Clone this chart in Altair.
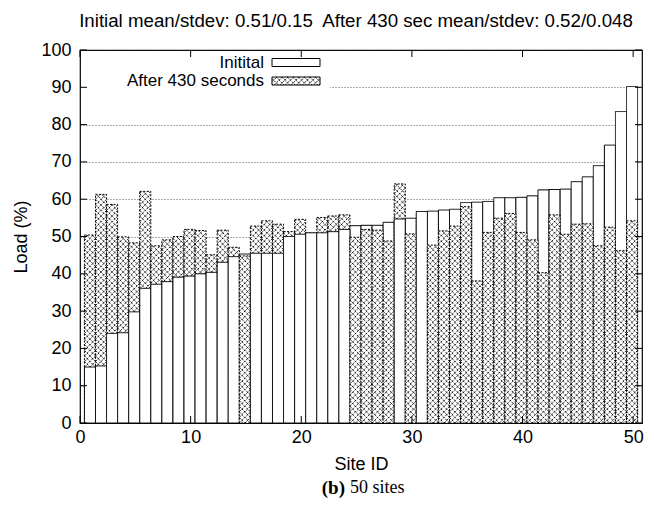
import altair as alt
import pandas as pd

# ---------------- data ----------------
sites = list(range(1, 51))
initial = [15.0, 15.3, 24.0, 24.2, 29.8, 36.1, 37.2, 37.9, 39.1, 39.4,
           40.0, 40.4, 43.1, 44.6, 45.3, 45.5, 45.5, 45.5, 50.0, 50.6,
           51.0, 51.0, 51.3, 51.9, 52.9, 53.0, 53.0, 53.8, 54.7, 54.9,
           56.7, 56.8, 57.1, 57.3, 59.1, 59.2, 59.4, 60.4, 60.4, 60.5,
           60.9, 62.5, 62.6, 62.7, 64.7, 66.0, 69.0, 74.5, 83.5, 90.2]
after = [50.4, 61.3, 58.6, 49.9, 48.3, 62.1, 47.5, 49.1, 50.0, 51.9,
         51.6, 45.1, 51.7, 47.1, 44.8, 52.8, 54.2, 53.3, 51.3, 54.6,
         51.0, 55.1, 55.5, 55.8, 49.8, 51.9, 51.7, 48.8, 64.1, 50.7,
         56.7, 47.7, 51.5, 52.8, 58.0, 38.1, 51.1, 54.9, 56.2, 51.1,
         49.1, 40.3, 55.8, 50.6, 53.3, 53.4, 47.5, 52.5, 46.2, 54.2]
series_names = ["Initital", "After 430 seconds"]
title_text = "Initial mean/stdev: 0.51/0.15\u00a0 After 430 sec mean/stdev: 0.52/0.048"
x_ticks = [0, 10, 20, 30, 40, 50]
y_ticks = [0, 10, 20, 30, 40, 50, 60, 70, 80, 90, 100]
x_title = "Site ID"
y_title = "Load (%)"
caption_bold = "(b)"
caption_rest = "50 sites"

# ---------------- layout ----------------
W, H = 562, 373
XMAX = 50.8
FONT = "Liberation Sans"
S_INIT, S_AFTER = series_names
PXX, PXY = W / XMAX, H / 100.0          # pixels per data unit
WU = round(PXX / PXY, 4)                 # 1 x-unit expressed in y-units (for 45 deg lines)
P = 1.5                                  # vertical pitch of hatch lines, y-units

df = pd.DataFrame({"site": sites, "initial": initial, "after": after})

xs = alt.Scale(domain=[0, XMAX], nice=False, zero=False)
ys = alt.Scale(domain=[0, 100], nice=False)
dashes = alt.Scale(domain=series_names, range=[[1, 0], [2, 1.5]])

x_axis = alt.Axis(values=x_ticks, grid=False, ticks=False, tickSize=0, domain=False,
                  labelFont=FONT, labelFontSize=18, labelColor="black", labelPadding=5,
                  title=x_title, titleFont=FONT, titleFontSize=18, titleFontWeight="normal",
                  titleColor="black", titlePadding=9, labelFlush=False)
y_axis = alt.Axis(values=y_ticks, grid=True, gridDash=[1, 2], gridColor="#333333",
                  gridWidth=0.8, ticks=False, tickSize=0, domain=False,
                  labelFont=FONT, labelFontSize=18, labelColor="black", labelPadding=9,
                  title=y_title, titleFont=FONT, titleFontSize=18, titleFontWeight="normal",
                  titleColor="black", titlePadding=10, labelFlush=False)

base = alt.Chart(df).transform_calculate(
    x0="datum.site - 0.6",
    x1="datum.site + 0.4",
    zero="0",
    hi="max(datum.initial, datum.after)",
    lo="min(datum.initial, datum.after)",
    tall=f"datum.after >= datum.initial ? '{S_AFTER}' : '{S_INIT}'",
    short=f"datum.after >= datum.initial ? '{S_INIT}' : '{S_AFTER}'",
    hlo="datum.after >= datum.initial ? datum.initial : 0",
    hhi="datum.after",
)


def bars(top_field, ser_field):
    return base.mark_bar(stroke="black", strokeWidth=1, fill="white").encode(
        x=alt.X("x0:Q", scale=xs, axis=x_axis),
        x2="x1:Q",
        y=alt.Y(f"{top_field}:Q", scale=ys, axis=y_axis),
        y2="zero:Q",
        strokeDash=alt.StrokeDash(f"{ser_field}:N", scale=dashes, legend=None),
    )


def hatch_layers(src):
    """Crosshatch (45 deg lines) clipped to the box x0..x1, hlo..hhi of every row."""
    hb = src.transform_filter("datum.hhi > datum.hlo").transform_calculate(
        wu=f"(datum.x1 - datum.x0) * {WU}"
    ).transform_calculate(
        ks=f"sequence(floor((datum.hlo - datum.wu) / {P}), ceil(datum.hhi / {P}) + 1)"
    ).transform_flatten(["ks"], as_=["k"]).transform_calculate(ys0=f"datum.k * {P}")
    up = hb.transform_calculate(
        ta="max(0, (datum.hlo - datum.ys0) / datum.wu)",
        tb="min(1, (datum.hhi - datum.ys0) / datum.wu)",
    ).transform_filter("datum.tb > datum.ta").transform_calculate(
        xa="datum.x0 + datum.ta * (datum.x1 - datum.x0)",
        xb="datum.x0 + datum.tb * (datum.x1 - datum.x0)",
        ya="datum.ys0 + datum.ta * datum.wu", yb="datum.ys0 + datum.tb * datum.wu",
    )
    down = hb.transform_calculate(
        ta="max(0, (datum.ys0 + datum.wu - datum.hhi) / datum.wu)",
        tb="min(1, (datum.ys0 + datum.wu - datum.hlo) / datum.wu)",
    ).transform_filter("datum.tb > datum.ta").transform_calculate(
        xa="datum.x0 + datum.ta * (datum.x1 - datum.x0)",
        xb="datum.x0 + datum.tb * (datum.x1 - datum.x0)",
        ya="datum.ys0 + datum.wu * (1 - datum.ta)", yb="datum.ys0 + datum.wu * (1 - datum.tb)",
    )
    out = []
    for s in (up, down):
        out.append(s.mark_rule(color="black", strokeWidth=0.85, strokeDash=[2.2, 1.1]).encode(
            x=alt.X("xa:Q", scale=xs, axis=x_axis), x2="xb:Q",
            y=alt.Y("ya:Q", scale=ys, axis=y_axis), y2="yb:Q",
        ))
    return out


tall = bars("hi", "tall")
short = bars("lo", "short")
bar_hatch = hatch_layers(base)

# inward tick marks on all four sides (mirrored, gnuplot style)
ytk = alt.Chart(pd.DataFrame({"v": y_ticks}))
xtk = alt.Chart(pd.DataFrame({"v": x_ticks}))
TL = 7
tick_left = ytk.mark_rule(color="black", strokeWidth=1).encode(
    y=alt.Y("v:Q", scale=ys, axis=y_axis), x=alt.value(0), x2=alt.value(TL))
tick_right = ytk.mark_rule(color="black", strokeWidth=1).encode(
    y=alt.Y("v:Q", scale=ys, axis=y_axis), x=alt.value(W - TL), x2=alt.value(W))
tick_bottom = xtk.mark_rule(color="black", strokeWidth=1).encode(
    x=alt.X("v:Q", scale=xs, axis=x_axis), y=alt.value(H), y2=alt.value(H - TL))
tick_top = xtk.mark_rule(color="black", strokeWidth=1).encode(
    x=alt.X("v:Q", scale=xs, axis=x_axis), y=alt.value(0), y2=alt.value(TL))

# key (opaque box, labels left of swatches)
one = alt.Chart(pd.DataFrame({"a": [0]}))
key_bg = one.mark_rect(fill="white").encode(
    x=alt.value(1), x2=alt.value(250), y=alt.value(1), y2=alt.value(44))
KX0, KX1 = 192, 240
key_items = []
for name, ty in zip(series_names, [12.5, 31]):
    kd = alt.Chart(pd.DataFrame({"name": [name]}))
    key_items.append(kd.mark_text(align="right", baseline="middle", font=FONT, fontSize=17,
                                  color="black").encode(
        text="name:N", x=alt.value(184), y=alt.value(ty)))
    key_items.append(kd.mark_rect(stroke="black", strokeWidth=1, fill="white").encode(
        x=alt.value(KX0), x2=alt.value(KX1), y=alt.value(ty - 4), y2=alt.value(ty + 4),
        strokeDash=alt.StrokeDash("name:N", scale=dashes, legend=None)))
# hatch inside the "after" swatch (pixel box converted to data units)
sw_df = pd.DataFrame({"x0": [KX0 / PXX], "x1": [KX1 / PXX],
                      "hlo": [100 - 35 / PXY], "hhi": [100 - 27 / PXY]})
key_hatch = hatch_layers(alt.Chart(sw_df))

# caption below the plot
cap = alt.Chart(pd.DataFrame({"b": [caption_bold], "r": [caption_rest]}))
cap_b = cap.mark_text(align="right", baseline="middle", font="Liberation Serif",
                      fontSize=19, fontWeight="bold", color="black").encode(
    text="b:N", x=alt.value(265), y=alt.value(H + 65))
cap_r = cap.mark_text(align="left", baseline="middle", font="Liberation Serif",
                      fontSize=18, color="black").encode(
    text="r:N", x=alt.value(270), y=alt.value(H + 65))

chart = alt.layer(
    key_bg, tall, short, *bar_hatch,
    tick_left, tick_right, tick_bottom, tick_top,
    *key_items, *key_hatch, cap_b, cap_r,
).properties(
    width=W, height=H,
    padding={"left": 80, "top": 50, "right": 12, "bottom": 82},
    autosize=alt.AutoSizeParams(type="none"),
    title=alt.TitleParams(text=title_text, font=FONT, fontSize=18.7, fontWeight="normal",
                          color="black", anchor="middle", offset=10, dx=-5),
).configure_view(stroke="black", strokeWidth=1.2)

chart.save("out.html", embed_options={"renderer": "svg", "actions": False})
